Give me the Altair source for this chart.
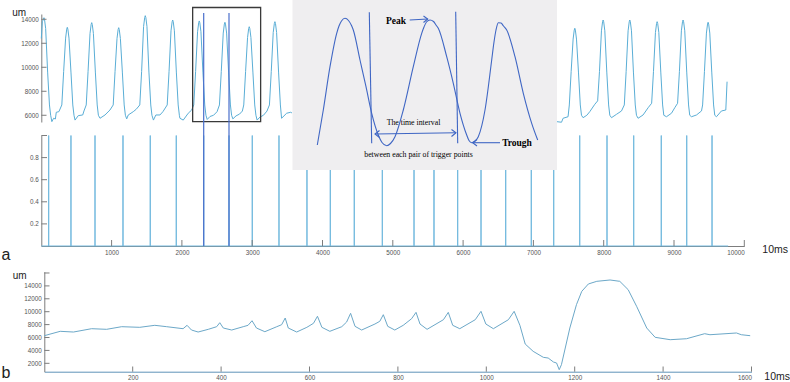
import altair as alt
import pandas as pd

# ---------------- data ----------------
# panel a, upper trace: time (10 ms units) and displacement (um); two visible stretches
top_seg1_t = [
    0, 15, 30, 38, 46, 62, 90, 116, 133, 150, 175, 200, 213, 250,
    292, 318, 346, 362, 370, 378, 394, 422, 448, 465, 480, 526, 589, 607,
    639, 665, 693, 709, 717, 725, 741, 769, 795, 812, 835, 906, 977,
    1023, 1049, 1077, 1093, 1101, 1109, 1125, 1153, 1179, 1196, 1215, 1237, 1308, 1350,
    1401, 1427, 1455, 1471, 1479, 1487, 1503, 1531, 1557, 1574, 1595, 1630, 1688, 1730,
    1791, 1817, 1845, 1861, 1869, 1877, 1893, 1921, 1947, 1964, 1972, 2019, 2090, 2139,
    2169, 2195, 2223, 2239, 2247, 2255, 2271, 2299, 2325, 2342, 2360, 2400, 2450, 2500,
    2534, 2560, 2588, 2604, 2612, 2620, 2636, 2664, 2690, 2707, 2725, 2770, 2820, 2860,
    2880, 2906, 2934, 2950, 2958, 2966, 2982, 3010, 3036, 3053, 3070, 3110, 3160, 3210,
    3245, 3271, 3299, 3315, 3323, 3331, 3347, 3375, 3401, 3418, 3490, 3546, 3565]
top_seg1_v = [
    12400, 13800, 14000, 14130, 13980, 13230, 9600, 6860, 6000, 5470, 5750, 5690, 6250, 6300,
    6860, 9640, 12430, 13180, 13330, 13180, 12430, 9600, 6860, 6000, 5600, 5970, 6025, 6360,
    6860, 9640, 12820, 13570, 13720, 13570, 12820, 9600, 6860, 6000, 5750, 6025, 6440,
    6860, 9640, 12400, 13150, 13300, 13150, 12400, 9600, 6860, 6000, 5700, 6025, 6300, 6500,
    6860, 9640, 13400, 14150, 14300, 14150, 13400, 9600, 6860, 6000, 5600, 6025, 6025, 6300,
    6860, 9640, 13040, 13790, 13940, 13790, 13040, 9600, 6860, 6000, 5750, 5600, 6170, 6440,
    6860, 9640, 12960, 13710, 13860, 13710, 12960, 9600, 6860, 6000, 5650, 5900, 6000, 6300,
    6860, 9640, 12850, 13600, 13750, 13600, 12850, 9600, 6860, 6000, 5700, 5950, 6100, 6350,
    6860, 9640, 12480, 13230, 13380, 13230, 12480, 9600, 6860, 6000, 5600, 5850, 6000, 6350,
    6860, 9640, 12900, 13650, 13800, 13650, 12900, 9600, 6860, 5750, 6170, 6250, 6200]
top_seg2_t = [
    7329, 7400, 7422, 7493,
    7511, 7537, 7565, 7581, 7589, 7597, 7613, 7641, 7667, 7684, 7707, 7760, 7802, 7874,
    7914, 7940, 7968, 7984, 7992, 8000, 8016, 8044, 8070, 8087, 8111, 8182, 8253,
    8293, 8319, 8347, 8363, 8371, 8379, 8395, 8423, 8449, 8466, 8489, 8560, 8632,
    8682, 8708, 8736, 8752, 8760, 8768, 8784, 8812, 8838, 8855, 8893, 8964, 9011,
    9051, 9077, 9105, 9121, 9129, 9137, 9153, 9181, 9207, 9224, 9249, 9320, 9391,
    9407, 9433, 9461, 9477, 9485, 9493, 9509, 9537, 9563, 9580, 9604, 9675, 9737, 9755]
top_seg2_v = [
    5470, 5420, 5750, 5880,
    6860, 9640, 12350, 13100, 13250, 13100, 12350, 9600, 6860, 6000, 5800, 6000, 6300, 6920,
    7200, 9640, 13040, 13790, 13940, 13790, 13040, 9600, 6860, 6000, 5800, 6080, 6360,
    6860, 9640, 13040, 13790, 13940, 13790, 13040, 9600, 6860, 6000, 5750, 6025, 6630,
    7000, 9640, 12900, 13650, 13800, 13650, 12900, 9600, 6860, 6000, 5880, 6170, 6630,
    7000, 9640, 13040, 13790, 13940, 13790, 13040, 9600, 6860, 6000, 5880, 6025, 6360,
    6860, 9640, 12850, 13600, 13750, 13600, 12850, 9600, 6860, 6000, 5880, 6360, 6440, 8800]

# panel a, trigger points (10 ms units); two highlighted ones
trigger_t = [105, 422, 764, 1162, 1550, 1920, 2310, 2670, 3001, 3381, 3779, 4111, 4452, 4851,
             5302, 5586, 5923, 6255, 6606, 6970, 7289, 7659, 8047, 8427, 8819, 9181, 9541]
trigger_end = 9770
highlight_t = [2310, 2670]
box_t = [2153, 3120]
box_v = [5467, 14983]

# panel b trace
bot_t = [0, 36, 66, 107, 141, 175, 216, 250, 277, 314, 323, 333, 348, 371, 390, 397, 405, 424,
         450, 461, 470, 480, 499, 526, 537, 545, 552, 571, 594, 609, 618, 628, 646, 673, 684,
         693, 703, 718, 748, 759, 767, 777, 793, 812, 831, 841, 850, 866, 903, 914, 924, 940,
         975, 988, 999, 1016, 1050, 1063, 1076, 1088, 1106, 1129, 1140, 1152, 1159, 1165, 1170,
         1189, 1204, 1216, 1231, 1250, 1280, 1302, 1321, 1340, 1363, 1382, 1416, 1453, 1494,
         1506, 1566, 1577, 1597]
bot_v = [6280, 6960, 6850, 7365, 7270, 7675, 7580, 7890, 7675, 7365, 7890, 7160, 6850, 7270,
         7675, 8295, 7470, 7160, 7675, 7890, 8600, 7470, 6900, 7675, 7985, 9020, 7470, 6850,
         7580, 8200, 9290, 7580, 6960, 7675, 8400, 9750, 7735, 7160, 8090, 8510, 9535, 7735,
         7160, 7890, 8915, 9900, 8090, 7270, 8760, 9900, 7890, 7365, 8760, 10060, 8090, 7365,
         8760, 10060, 7890, 4990, 3860, 2930, 2820, 2200, 2050, 1010, 1790, 7470, 11090, 13160,
         14300, 14710, 14915, 14710, 13410, 10840, 7470, 6030, 5660, 5810, 6590, 6430, 6700,
         6430, 6280]

# tick values
top_y_ticks = [6000, 8000, 10000, 12000, 14000]
trig_y_labels = [0.2, 0.4, 0.6, 0.8]
trig_y_ticks = [0.2, 0.4, 0.6, 0.8, 1.0]
trig_x_ticks = [1000, 2000, 3000, 4000, 5000, 6000, 7000, 8000, 9000, 10000]
bot_y_labels = [2000, 4000, 6000, 8000, 10000, 12000, 14000]
bot_y_ticks = [2000, 4000, 6000, 8000, 10000, 12000, 14000, 16000]
bot_x_ticks = [200, 400, 600, 800, 1000, 1200, 1400, 1600]

# inset illustration (inset drawing units = page pixels)
inset_curve_x = [317.3, 323.3, 330, 336.7, 339, 341.5, 345, 348.5, 351.5, 353.3, 360, 366,
                 371.7, 378.3, 382, 386.7, 390.5, 395, 403.3, 413.3, 421.7, 424, 426.5, 430,
                 433.5, 436, 438.3, 446.7, 453.3, 460, 466.7, 469, 471.7, 474.5, 478.3, 485,
                 491.7, 494, 496, 498.3, 501, 503.5, 506.7, 515, 523.3, 531.7, 537.7]
inset_curve_y = [145, 110, 66.7, 33.3, 26, 21, 18.3, 20.5, 25.5, 30, 60, 86.7,
                 113.3, 135, 142.5, 145.7, 143.5, 136.7, 110, 66.7, 33.3, 27, 22, 20,
                 21.5, 25, 28.3, 56.7, 83.3, 113.3, 135, 140.5, 142.7, 141.5, 136.7, 110,
                 60, 42, 30, 22.7, 23, 26, 30, 56.7, 93.3, 123.3, 140]
inset_seg_x = [369.3, 371.7, 455.7, 457.7,
               409.7, 427.7, 423.5, 427.7, 423.5,
               375, 456, 379.5, 375, 379.5, 451.5, 456, 451.5,
               500, 472.7, 477, 472.7, 477]
inset_seg_y = [12.3, 143.3, 11.7, 143.3,
               20, 19, 16, 19, 22.5,
               134, 132.7, 130.5, 134, 137.5, 129.5, 132.7, 136.5,
               142.7, 142.7, 139.5, 142.7, 146]
inset_seg_group = [1, 1, 2, 2,
                   3, 3, 4, 4, 4,
                   5, 5, 6, 6, 6, 7, 7, 7,
                   8, 8, 9, 9, 9]

# ---------------- styles ----------------
C_SIG = "#5aaed6"
C_TRIG = "#72b9de"
C_DARK = "#4a6fcc"
C_BOT = "#6ca8c8"
C_AX = "#7d7d7d"
C_LAB = "#555555"
C_INSET = "#3f66c4"
LABFONT = "Liberation Sans"

X_TOP = alt.Scale(domain=[0, 10000], range=[41.3, 744.3], nice=False, zero=False)
Y_TOP = alt.Scale(domain=[5440, 14440], range=[122, 14], nice=False, zero=False)
Y_TRIG = alt.Scale(domain=[0, 1], range=[246, 135.5], nice=False, zero=False)
X_BOT = alt.Scale(domain=[0, 1600], range=[44.3, 751.5], nice=False, zero=False)
Y_BOT = alt.Scale(domain=[700, 16200], range=[371.7, 271.7], nice=False, zero=False)


def axis(orient, offset, values, fmt, domain_color=C_AX):
    return alt.Axis(orient=orient, offset=offset, values=values, format=fmt, title=None,
                    tickSize=0, labelFontSize=6.3, labelColor=C_LAB, labelFont=LABFONT,
                    domainColor=domain_color, domainWidth=1, grid=False, labelPadding=3,
                    labelOverlap=False)


# ---------------- panel a, top trace ----------------
top_df = pd.DataFrame({
    "t": top_seg1_t + top_seg2_t,
    "v": top_seg1_v + top_seg2_v,
    "seg": [1] * len(top_seg1_t) + [2] * len(top_seg2_t),
})
top_axis = axis("left", -41.3, top_y_ticks, "d")
top_line = alt.Chart(top_df).mark_line(color=C_SIG, strokeWidth=1).encode(
    x=alt.X("t:Q", scale=X_TOP, axis=None),
    y=alt.Y("v:Q", scale=Y_TOP, axis=top_axis),
    detail="seg:N",
)
top_ticks = alt.Chart(pd.DataFrame({"v": top_y_ticks})).mark_rule(color=C_AX, strokeWidth=1).encode(
    y=alt.Y("v:Q", scale=Y_TOP, axis=top_axis),
    x=alt.value(41.3), x2=alt.value(46.5),
)
box = alt.Chart(pd.DataFrame({"t0": [box_t[0]], "t1": [box_t[1]], "v0": [box_v[0]], "v1": [box_v[1]]})).mark_rect(
    fillOpacity=0, stroke="#3a3a3a", strokeWidth=1.3
).encode(
    x=alt.X("t0:Q", scale=X_TOP, axis=None), x2="t1:Q",
    y=alt.Y("v0:Q", scale=Y_TOP, axis=top_axis), y2="v1:Q",
)
panel_top = alt.layer(top_line, top_ticks, box)

# ---------------- panel a, trigger train ----------------
pt, pv = [0], [0]
for t in trigger_t:
    pt += [t, t, t]
    pv += [0, 1, 0]
pt.append(trigger_end)
pv.append(0)
trig_df = pd.DataFrame({"t": pt, "v": pv, "i": list(range(len(pt)))})
trig_xaxis = axis("bottom", -136, trig_x_ticks, "d")
trig_yaxis = axis("left", -41.3, trig_y_labels, ".1f")
trig_line = alt.Chart(trig_df).mark_line(color=C_TRIG, strokeWidth=1).encode(
    x=alt.X("t:Q", scale=X_TOP, axis=trig_xaxis),
    y=alt.Y("v:Q", scale=Y_TRIG, axis=trig_yaxis),
    order="i:Q",
)
trig_xt = alt.Chart(pd.DataFrame({"t": trig_x_ticks})).mark_rule(color=C_AX, strokeWidth=1).encode(
    x=alt.X("t:Q", scale=X_TOP, axis=trig_xaxis),
    y=alt.value(240), y2=alt.value(246),
)
trig_yt = alt.Chart(pd.DataFrame({"v": trig_y_ticks})).mark_rule(color=C_AX, strokeWidth=1).encode(
    y=alt.Y("v:Q", scale=Y_TRIG, axis=trig_yaxis),
    x=alt.value(41.3), x2=alt.value(47),
)
dark = alt.Chart(pd.DataFrame({"t": highlight_t})).mark_rule(color=C_DARK, strokeWidth=1.2).encode(
    x=alt.X("t:Q", scale=X_TOP, axis=trig_xaxis),
    y=alt.value(13), y2=alt.value(246),
)
panel_trig = alt.layer(trig_line, trig_xt, trig_yt, dark)

# ---------------- panel b ----------------
bot_df = pd.DataFrame({"t": bot_t, "v": bot_v})
bot_xaxis = axis("bottom", -10.3, bot_x_ticks, "d", domain_color="#5f93b8")
bot_yaxis = axis("left", -44.3, bot_y_labels, "d")
bot_line = alt.Chart(bot_df).mark_line(color=C_BOT, strokeWidth=1).encode(
    x=alt.X("t:Q", scale=X_BOT, axis=bot_xaxis),
    y=alt.Y("v:Q", scale=Y_BOT, axis=bot_yaxis),
)
bot_xt = alt.Chart(pd.DataFrame({"t": bot_x_ticks})).mark_rule(color=C_AX, strokeWidth=1).encode(
    x=alt.X("t:Q", scale=X_BOT, axis=bot_xaxis),
    y=alt.value(366.5), y2=alt.value(371.7),
)
bot_yt = alt.Chart(pd.DataFrame({"v": bot_y_ticks})).mark_rule(color=C_AX, strokeWidth=1).encode(
    y=alt.Y("v:Q", scale=Y_BOT, axis=bot_yaxis),
    x=alt.value(44.3), x2=alt.value(49.5),
)
panel_bot = alt.layer(bot_line, bot_xt, bot_yt)

# ---------------- inset illustration ----------------
dummy = pd.DataFrame({"d": [0]})
inset_bg = alt.Chart(dummy).mark_rect(color="#efeef0").encode(
    x=alt.value(292.5), x2=alt.value(557), y=alt.value(0), y2=alt.value(170)
)
curve_df = pd.DataFrame({"x": inset_curve_x, "y": inset_curve_y, "i": list(range(len(inset_curve_x)))})
inset_curve = alt.Chart(curve_df).mark_line(color=C_INSET, strokeWidth=1.1, interpolate="monotone").encode(
    x=alt.X("x:Q", scale=None, axis=None), y=alt.Y("y:Q", scale=None, axis=None), order="i:Q"
)
seg_df = pd.DataFrame({"x": inset_seg_x, "y": inset_seg_y, "g": inset_seg_group,
                       "i": list(range(len(inset_seg_x)))})
inset_segs = alt.Chart(seg_df).mark_line(color=C_INSET, strokeWidth=1.1).encode(
    x=alt.X("x:Q", scale=None, axis=None), y=alt.Y("y:Q", scale=None, axis=None),
    detail="g:N", order="i:Q"
)


def label(txt, x, y, size, font=LABFONT, weight="normal", color="black", align="left",
          baseline="alphabetic"):
    return alt.Chart(pd.DataFrame({"s": [txt]})).mark_text(
        fontSize=size, font=font, fontWeight=weight, color=color, align=align, baseline=baseline
    ).encode(text="s:N", x=alt.value(x), y=alt.value(y))


SERIF = "Liberation Serif"
texts = [
    label("Peak", 396, 21, 9.5, font=SERIF, weight="bold", align="center", baseline="middle"),
    label("Trough", 517, 142.5, 9.5, font=SERIF, weight="bold", align="center", baseline="middle"),
    label("The time interval", 413.5, 122.5, 7.8, font=SERIF, align="center", baseline="middle"),
    label("between each pair of trigger points", 418.5, 154.5, 7.8, font=SERIF, align="center",
          baseline="middle"),
    label("um", 12.3, 15.5, 10, color="#222222"),
    label("um", 12.7, 278.5, 10, color="#222222"),
    label("a", 1.5, 259.5, 16, color="#222222"),
    label("b", 1.5, 378.3, 16, color="#222222"),
    label("10ms", 762.3, 253.3, 10.5, color="#222222"),
    label("10ms", 764.3, 380.2, 10.5, color="#222222"),
]

chart = alt.layer(
    panel_top, panel_trig, panel_bot, inset_bg, inset_curve, inset_segs, *texts
).resolve_scale(
    x="independent", y="independent"
).properties(
    width=790, height=382, autosize=alt.AutoSizeParams(type="none"), padding=0,
    background="white"
).configure_view(stroke=None)

chart.save("out.html", embed_options={"renderer": "svg", "actions": False})
